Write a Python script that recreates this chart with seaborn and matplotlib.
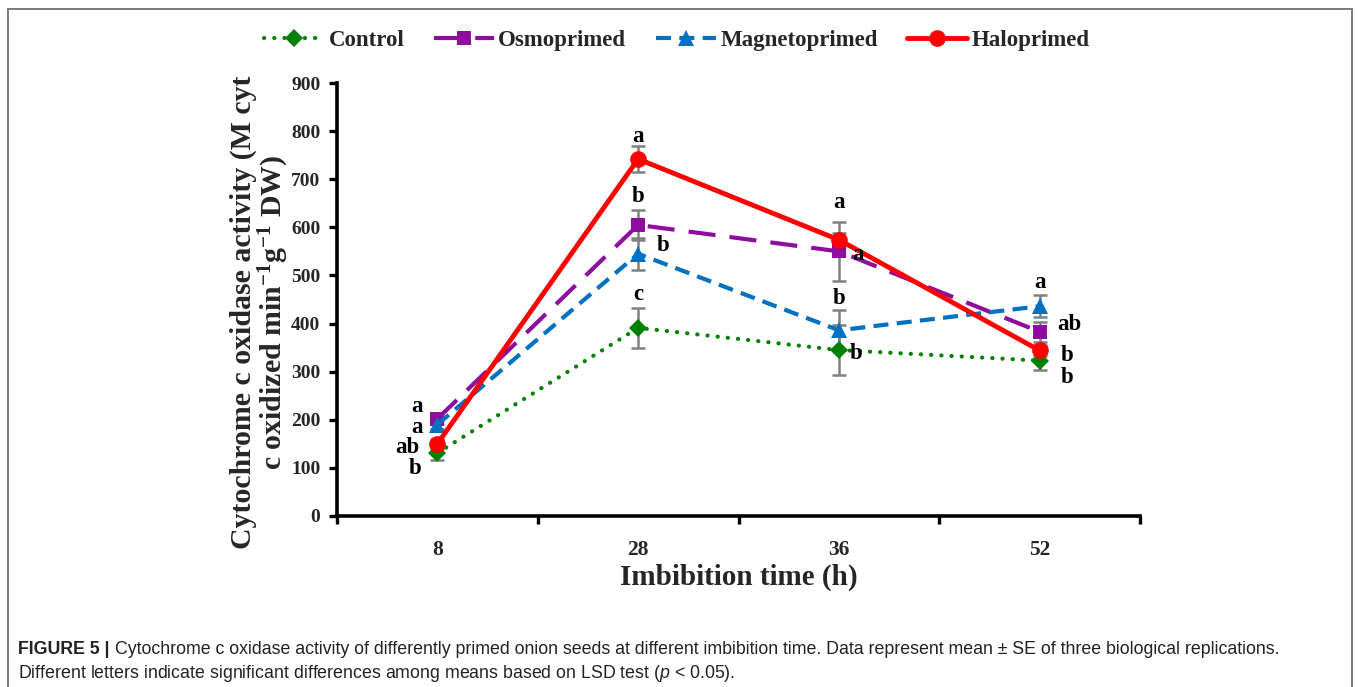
import matplotlib
matplotlib.use("Agg")
import matplotlib.pyplot as plt
import seaborn as sns
import numpy as np
import pandas as pd
from matplotlib.patches import Rectangle

# ---------------- data ----------------
times = ["8", "28", "36", "52"]
series_names = ["Control", "Osmoprimed", "Magnetoprimed", "Haloprimed"]

control = [131, 391, 345, 323]
osmoprimed = [202, 605, 550, 383]
magnetoprimed = [190, 545, 386, 436]
haloprimed = [150, 742, 574, 344]

control_se = [14, 42, 52, 20]
osmoprimed_se = [10, 31, 62, 21]
magnetoprimed_se = [10, 33, 42, 23]
haloprimed_se = [10, 27, 15, 12]

control_letters = ["b", "c", "b", "b"]
osmoprimed_letters = ["a", "b", "a", "ab"]
magnetoprimed_letters = ["a", "b", "b", "a"]
haloprimed_letters = ["ab", "a", "a", "b"]

# ---------------- style ----------------
sns.set_theme(style="white")
plt.rcParams["font.family"] = ["Liberation Serif", "DejaVu Serif"]
plt.rcParams["font.weight"] = "bold"
plt.rcParams["mathtext.fontset"] = "custom"
plt.rcParams["mathtext.it"] = "Liberation Sans:style=italic:weight=normal"
plt.rcParams["mathtext.rm"] = "Liberation Serif:weight=bold"
plt.rcParams["mathtext.bf"] = "Liberation Serif:weight=bold"
plt.rcParams["mathtext.default"] = "rm"

W, H = 1358, 687
fig = plt.figure(figsize=(W / 100, H / 100), dpi=100)
ax = fig.add_axes([337 / W, 1 - 516 / H, (1140 - 337) / W, (516 - 83) / H])

styles = {
    "Control": dict(color="#008000", marker="D", ms=9, lw=3.0,
                    ls=(0, (0.05, 2.4)), dash_capstyle="round"),
    "Osmoprimed": dict(color="#8E0C9E", marker="s", ms=10.5, lw=3.0,
                       ls=(0, (6.5, 3.4))),
    "Magnetoprimed": dict(color="#0070C0", marker="^", ms=11, lw=3.0,
                          ls=(0, (3.6, 2.0))),
    "Haloprimed": dict(color="#FF0000", marker="o", ms=12, lw=3.5, ls="-"),
}

values = {"Control": control, "Osmoprimed": osmoprimed,
          "Magnetoprimed": magnetoprimed, "Haloprimed": haloprimed}
errors = {"Control": control_se, "Osmoprimed": osmoprimed_se,
          "Magnetoprimed": magnetoprimed_se, "Haloprimed": haloprimed_se}
letters = {"Control": control_letters, "Osmoprimed": osmoprimed_letters,
           "Magnetoprimed": magnetoprimed_letters, "Haloprimed": haloprimed_letters}

# letter offsets in pixels (dx, dy up)
letter_offsets = {
    "Control": [(-22, -16), (0, 33), (17, -3), (27, -17)],
    "Osmoprimed": [(-20, 12), (0, 28), (19, -3), (30, 7)],
    "Magnetoprimed": [(-20, -3), (25, 8), (0, 32), (0, 24)],
    "Haloprimed": [(-30, -4), (0, 23), (0, 37), (27, -5)],
}

for name in series_names:
    ax.errorbar(times, values[name], yerr=errors[name], fmt="none",
                ecolor="#808080", elinewidth=1.8, capsize=5, capthick=1.8,
                zorder=1.5)
for name in series_names:
    st = styles[name]
    kw = dict(color=st["color"], marker=st["marker"], markersize=st["ms"],
              linewidth=st["lw"], linestyle=st["ls"], markeredgewidth=0,
              label=name)
    if "dash_capstyle" in st:
        kw["dash_capstyle"] = st["dash_capstyle"]
    sns.lineplot(x=times, y=values[name], sort=False, ax=ax, **kw)

for name in series_names:
    for i, t in enumerate(times):
        dx, dy = letter_offsets[name][i]
        ax.annotate(letters[name][i], (i, values[name][i]),
                    xytext=(dx * 0.72, dy * 0.72), textcoords="offset points",
                    ha="center", va="center", fontsize=16.5, fontweight="bold",
                    color="black", zorder=5)

ax.set_xlim(-0.5, 3.5)
ax.set_ylim(0, 900)
ax.set_yticks(np.arange(0, 901, 100))
ax.set_xticks(range(len(times)))
ax.set_xticklabels(times)
ax.set_xticks([-0.5, 0.5, 1.5, 2.5, 3.5], minor=True)
ax.tick_params(axis="x", which="major", length=0, pad=17, labelsize=15.5)
ax.tick_params(axis="x", which="minor", length=6, width=2.4, direction="out",
               bottom=True, color="black")
ax.tick_params(axis="y", which="major", length=6, width=2.4, direction="out",
               left=True, pad=6, labelsize=14, color="black")
for lab in ax.get_xticklabels() + ax.get_yticklabels():
    lab.set_fontweight("bold")

for s in ["top", "right"]:
    ax.spines[s].set_visible(False)
for s in ["left", "bottom"]:
    ax.spines[s].set_linewidth(2.6)
    ax.spines[s].set_color("black")

ax.set_ylabel("Cytochrome c oxidase activity (M cyt\nc oxidized min$^{-1}$g$^{-1}$ DW)",
              fontsize=21.5, fontweight="bold", linespacing=1.0)
ax.yaxis.set_label_coords(-0.057, 0.47)
ax.set_xlabel("Imbibition time (h)", fontsize=21, fontweight="bold")
ax.xaxis.set_label_coords(0.5, -0.11)

ax.legend(loc="center", bbox_to_anchor=(677 / W, 1 - 40 / H),
          bbox_transform=fig.transFigure, ncol=4, frameon=False,
          prop={"family": "Liberation Serif", "weight": "bold", "size": 16.5},
          handlelength=2.6, handletextpad=0.2, columnspacing=1.3,
          borderaxespad=0)

# figure border
fig.patches.append(Rectangle((8 / W, -0.1), (1352 - 8) / W, 1.1 - 9 / H,
                             transform=fig.transFigure, fill=False,
                             edgecolor="#7a7a7a", linewidth=1.4))

# caption
cap_size = 12.8
t1 = fig.text(18 / W, 1 - 649 / H, "FIGURE 5 |", fontsize=cap_size, va="center",
              ha="left", family="Liberation Sans", fontweight="bold", color="#222222")
fig.canvas.draw()
bb = t1.get_window_extent()
fig.text((bb.x1 + 5) / W, 1 - 649 / H,
         "Cytochrome c oxidase activity of differently primed onion seeds at different imbibition time. Data represent mean \u00b1 SE of three biological replications.",
         fontsize=cap_size, va="center", ha="left", family="Liberation Sans",
         fontweight="normal", color="#222222")
fig.text(18 / W, 1 - 674 / H,
         "Different letters indicate significant differences among means based on LSD test ($\\mathit{p}$ < 0.05).",
         fontsize=cap_size, va="center", ha="left", family="Liberation Sans",
         fontweight="normal", color="#222222")

fig.savefig("out.png", dpi=100)
